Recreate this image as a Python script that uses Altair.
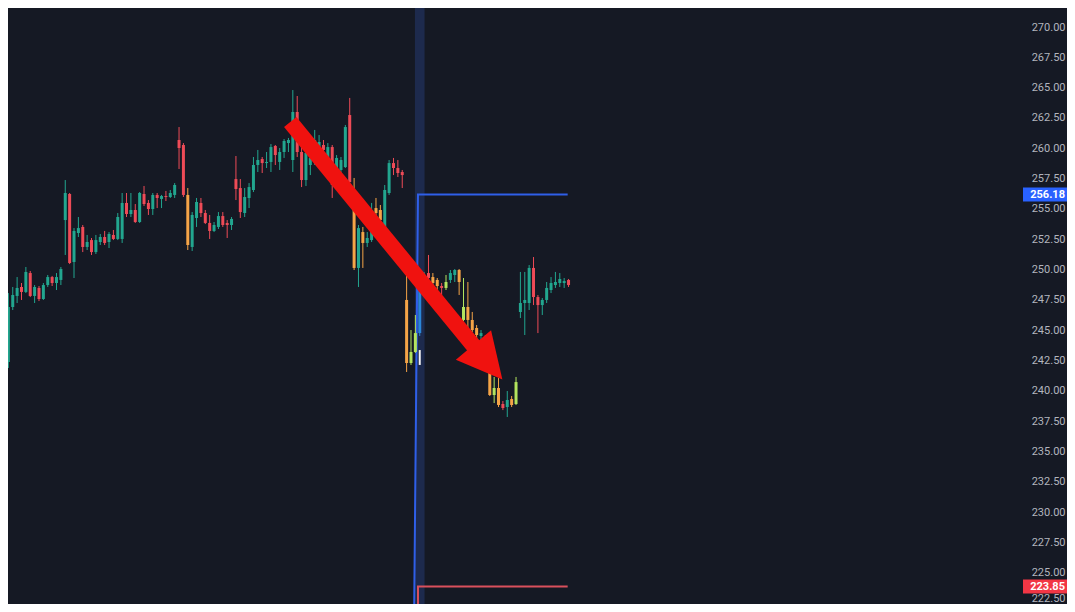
import altair as alt
import pandas as pd

# ---------------- data ----------------
opens = [242.37, 246.91, 247.82, 248.56, 248.15, 249.71, 247.82, 248.48, 247.57, 248.72,
         249.38, 248.89, 249.14, 254.08, 256.23, 250.62, 253.01, 253.51, 251.86, 252.43,
         251.44, 252.27, 252.68, 252.27, 252.85, 252.52, 252.52, 255.49, 254.58, 254.91,
         253.92, 256.23, 255.49, 254.99, 256.15, 255.82, 256.06, 255.98, 256.15, 260.68,
         260.27, 256.15, 251.86, 254.25, 255.49, 254.66, 253.84, 253.18, 253.51, 254.41,
         253.84, 253.67, 257.46, 256.72, 254.66, 255.90, 256.56, 258.62, 259.11, 258.78,
         258.87, 260.19, 258.87, 259.69, 260.43, 259.03, 262.99, 259.69, 257.38, 258.62,
         259.03, 259.86, 260.27, 259.28, 260.10, 258.37, 258.21, 258.45, 262.74, 255.07,
         250.13, 253.09, 252.19, 252.43, 255.07, 254.91, 253.51, 256.31, 258.78, 258.37,
         258.04, 247.49, 242.29, 243.20, 244.76, 248.72, 249.71, 249.38, 249.14, 248.64,
         248.48, 249.14, 249.55, 249.96, 245.84, 246.91, 245.84, 245.18, 244.52, 244.19,
         241.47, 239.65, 240.23, 238.91, 238.66, 239.32, 238.91, 246.50, 247.24, 247.24,
         250.13, 247.73, 247.07, 247.49, 248.31, 248.72, 248.89, 248.89, 249.14]
highs = [248.06, 248.56, 249.38, 248.89, 250.21, 249.88, 248.72, 248.64, 248.89, 249.55,
         249.47, 249.71, 250.21, 257.38, 256.31, 253.42, 254.33, 253.67, 252.85, 252.60,
         252.85, 252.93, 253.18, 253.09, 253.26, 254.66, 256.31, 256.31, 256.31, 255.40,
         256.39, 256.89, 255.73, 256.31, 256.31, 256.15, 256.48, 256.56, 257.13, 261.75,
         260.43, 256.72, 254.74, 255.90, 255.90, 254.91, 254.50, 253.92, 254.74, 254.74,
         254.08, 254.33, 259.36, 257.46, 256.72, 257.13, 259.28, 259.86, 259.28, 259.69,
         260.35, 260.27, 260.02, 260.76, 260.85, 264.80, 264.31, 260.27, 259.86, 259.86,
         261.51, 261.09, 260.68, 260.43, 260.27, 259.44, 259.28, 261.92, 264.15, 257.55,
         253.67, 253.51, 253.09, 255.49, 255.90, 255.32, 256.97, 259.03, 259.20, 259.03,
         258.21, 249.71, 245.01, 246.25, 249.14, 249.80, 251.20, 249.71, 249.30, 248.89,
         249.55, 249.96, 250.04, 250.04, 249.30, 248.97, 246.50, 245.42, 245.01, 244.60,
         241.71, 241.14, 241.05, 239.16, 239.98, 239.57, 241.14, 249.80, 249.80, 250.37,
         251.03, 247.90, 247.65, 248.97, 249.38, 249.80, 249.71, 249.30, 249.22]
lows = [241.88, 246.66, 247.24, 247.49, 248.06, 247.73, 247.24, 247.40, 247.49, 248.56,
        248.64, 248.31, 248.72, 251.20, 250.45, 249.30, 252.68, 251.44, 251.61, 251.20,
        251.28, 252.02, 252.02, 251.77, 252.43, 252.43, 252.19, 254.33, 254.33, 253.84,
        253.84, 255.24, 254.50, 254.50, 255.07, 255.07, 255.65, 255.90, 255.90, 258.29,
        255.98, 251.61, 251.53, 253.51, 254.33, 253.75, 252.52, 253.09, 253.34, 253.51,
        252.60, 253.26, 255.73, 254.25, 254.33, 255.07, 256.39, 258.04, 257.96, 258.37,
        258.04, 258.62, 258.21, 259.20, 259.69, 258.04, 259.28, 256.80, 256.89, 257.79,
        258.62, 259.03, 259.20, 258.62, 255.90, 256.56, 257.96, 258.37, 256.97, 249.96,
        248.56, 250.13, 251.86, 252.27, 253.92, 253.67, 253.26, 256.15, 257.79, 257.63,
        256.72, 241.55, 242.13, 243.12, 244.52, 248.48, 249.14, 248.72, 248.31, 247.90,
        248.31, 248.89, 248.97, 247.90, 245.75, 245.01, 244.85, 244.35, 244.19, 242.13,
        239.57, 238.99, 238.66, 238.41, 237.84, 238.66, 238.83, 246.00, 244.60, 246.66,
        247.07, 244.76, 246.25, 247.24, 248.06, 248.48, 248.56, 248.48, 248.56]
closes = [246.91, 247.90, 248.48, 248.15, 249.80, 247.82, 248.56, 247.57, 248.72, 249.38,
          248.89, 249.38, 250.04, 256.31, 250.54, 253.18, 253.42, 251.86, 252.27, 251.44,
          252.43, 252.68, 252.19, 252.93, 252.52, 254.33, 255.49, 254.58, 254.91, 253.92,
          256.31, 255.40, 254.99, 256.15, 255.90, 256.06, 255.98, 256.31, 256.97, 260.02,
          256.15, 252.02, 254.50, 255.57, 254.66, 253.84, 253.18, 253.67, 254.41, 253.67,
          253.67, 254.17, 256.64, 254.74, 255.98, 256.80, 258.62, 259.03, 258.78, 258.87,
          260.10, 259.44, 259.69, 260.60, 260.68, 262.99, 259.69, 257.38, 259.61, 259.20,
          260.68, 260.52, 259.86, 260.10, 256.97, 259.20, 259.03, 261.75, 257.22, 250.13,
          253.42, 252.19, 252.60, 254.91, 254.66, 254.08, 256.56, 258.78, 258.37, 257.96,
          257.79, 242.29, 243.20, 244.76, 248.31, 249.55, 249.30, 248.89, 248.64, 248.48,
          248.97, 249.71, 249.96, 248.97, 246.91, 245.84, 245.01, 244.60, 244.76, 242.54,
          239.65, 240.23, 238.83, 238.58, 239.24, 238.83, 240.72, 247.24, 247.49, 250.13,
          247.73, 247.07, 247.49, 248.48, 248.89, 248.97, 249.22, 249.05, 248.72]

orange_idx = [41, 79, 81, 84, 85, 91, 97, 98, 103, 105, 106, 107, 109, 110, 112, 115]
lime_idx = [92, 93, 100, 104, 111, 116]
blue_idx = [94]

white_idx = [94]
white_top = [243.36]
white_bot = [242.13]

tick_values = [222.5, 225.0, 227.5, 230.0, 232.5, 235.0, 237.5, 240.0, 242.5, 245.0,
               247.5, 250.0, 252.5, 255.0, 257.5, 260.0, 262.5, 265.0, 267.5, 270.0]

# level lines (index, price)
blue_line_i = [92.7, 93.6, 127.8]
blue_line_p = [221.0, 256.18, 256.18]
red_line_i = [93.6, 93.6, 127.8]
red_line_p = [221.0, 223.85, 223.85]
band_i = [92.9, 95.1]

# arrow annotation (index, price)
arrow_i = [64.41, 106.9]
arrow_p = [262.17, 243.45]
head_i = [106.27]
head_p = [243.78]

price_tags = [256.18, 223.85]
price_tag_text = ["256.18", "223.85"]
price_tag_kind = ["blue", "red"]

# ---------------- styling ----------------
BG = "#151924"
UP = "#22a68f"
DOWN = "#ee4b57"
ORANGE = "#f5a447"
LIME = "#b3e45e"
BLUE_C = "#2a86d8"
W, H = 1015, 596

kinds = []
for i, (o, c) in enumerate(zip(opens, closes)):
    if i in blue_idx:
        kinds.append("blue")
    elif i in orange_idx:
        kinds.append("orange")
    elif i in lime_idx:
        kinds.append("lime")
    elif c >= o:
        kinds.append("up")
    else:
        kinds.append("down")

df = pd.DataFrame({"i": list(range(len(opens))), "o": opens, "h": highs,
                   "l": lows, "c": closes, "kind": kinds})

xs = alt.Scale(domain=[1.06, 230.7], nice=False, zero=False)
ys = alt.Scale(domain=[222.417, 271.567], nice=False, zero=False)
y_axis = alt.Axis(orient="right", values=tick_values, format=".2f", labelAlign="right",
                  labelPadding=42, ticks=False, domain=False, grid=False,
                  labelColor="#b2b5be", labelFont="Roboto", labelFontSize=11,
                  labelOverlap=False, labelFlush=4, labelFlushOffset=1, title=None)
color = alt.Color("kind:N", legend=None,
                  scale=alt.Scale(domain=["up", "down", "orange", "lime", "blue"],
                                  range=[UP, DOWN, ORANGE, LIME, BLUE_C]))

band = alt.Chart(pd.DataFrame({"a": [band_i[0]], "b": [band_i[1]]})).mark_rect(
    color="#1d2a4d", clip=True).encode(
    x=alt.X("a:Q", scale=xs, axis=None), x2="b:Q",
    y=alt.value(0), y2=alt.value(H))

wicks = alt.Chart(df).mark_rule(strokeWidth=1, clip=True).encode(
    x=alt.X("i:Q", scale=xs, axis=None),
    y=alt.Y("l:Q", scale=ys, axis=y_axis), y2="h:Q", color=color)

bodies = alt.Chart(df).mark_bar(width=3, clip=True).encode(
    x=alt.X("i:Q", scale=xs, axis=None),
    y=alt.Y("o:Q", scale=ys, axis=y_axis), y2="c:Q", color=color)

white = alt.Chart(pd.DataFrame({"i": white_idx, "t": white_top, "b": white_bot})).mark_bar(
    width=2, color="#f2f2f2", clip=True).encode(
    x=alt.X("i:Q", scale=xs, axis=None),
    y=alt.Y("t:Q", scale=ys, axis=y_axis), y2="b:Q")

blue_line = alt.Chart(pd.DataFrame({"i": blue_line_i, "p": blue_line_p,
                                    "k": [0, 1, 2]})).mark_line(
    color="#2f5fe8", strokeWidth=2, clip=True).encode(
    x=alt.X("i:Q", scale=xs, axis=None),
    y=alt.Y("p:Q", scale=ys, axis=y_axis), order="k:Q")

red_line = alt.Chart(pd.DataFrame({"i": red_line_i, "p": red_line_p,
                                   "k": [0, 1, 2]})).mark_line(
    color="#d9505c", strokeWidth=2, clip=True).encode(
    x=alt.X("i:Q", scale=xs, axis=None),
    y=alt.Y("p:Q", scale=ys, axis=y_axis), order="k:Q")

shaft = alt.Chart(pd.DataFrame({"i": arrow_i, "p": arrow_p})).mark_line(
    color="#f0120f", strokeWidth=16, strokeCap="butt", clip=True).encode(
    x=alt.X("i:Q", scale=xs, axis=None),
    y=alt.Y("p:Q", scale=ys, axis=y_axis))

head = alt.Chart(pd.DataFrame({"i": head_i, "p": head_p})).mark_point(
    shape="M0,1L-0.511,0L0.511,0Z", size=8100, angle=320, filled=True,
    opacity=1, color="#f0120f", strokeWidth=0).encode(
    x=alt.X("i:Q", scale=xs, axis=None),
    y=alt.Y("p:Q", scale=ys, axis=y_axis))

tags_df = pd.DataFrame({"p": price_tags, "t": price_tag_text, "k": price_tag_kind})
tag_color = alt.Color("k:N", legend=None,
                      scale=alt.Scale(domain=["blue", "red"], range=["#2962ff", "#f23645"]))
tag_boxes = alt.Chart(tags_df).mark_tick(thickness=14, size=44, opacity=1).encode(
    x=alt.value(W + 22),
    y=alt.Y("p:Q", scale=ys, axis=y_axis), color=tag_color)
tag_text = alt.Chart(tags_df).mark_text(
    align="right", baseline="middle", color="#ffffff", font="Roboto",
    fontSize=11, fontWeight="bold").encode(
    x=alt.value(W + 42),
    y=alt.Y("p:Q", scale=ys, axis=y_axis), text="t:N")

chart = alt.layer(band, blue_line, red_line, wicks, bodies, white, shaft, head,
                  tag_boxes, tag_text).resolve_scale(color="independent").properties(
    width=W, height=H, background=BG,
    autosize=alt.AutoSizeParams(type="none"),
    padding={"left": 0, "top": 0, "right": 44, "bottom": 0},
).configure_view(strokeWidth=0)

chart.save("out.html", embed_options={"renderer": "svg", "actions": False})
